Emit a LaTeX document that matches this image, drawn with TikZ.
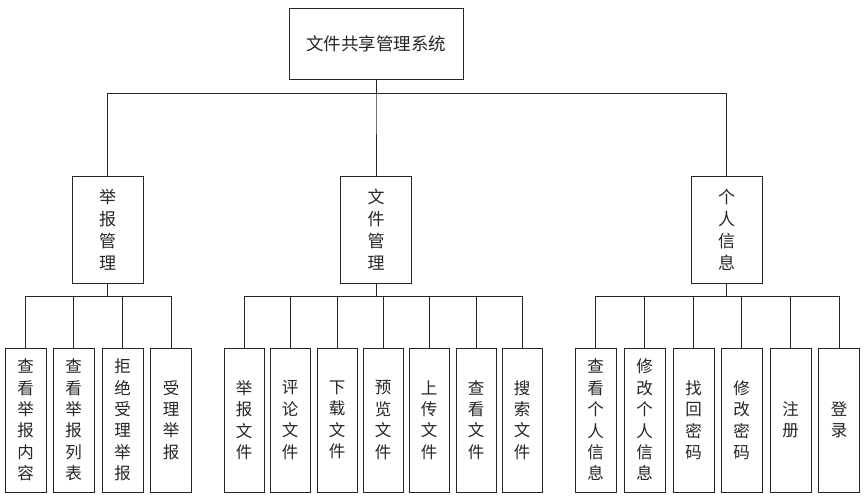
\documentclass[tikz,border=0pt]{standalone}
\usepackage{fontspec}
\newfontfamily\cjk{Noto Sans CJK SC}
\begin{document}
\begin{tikzpicture}[x=1pt,y=-1pt,
  box/.style={draw=black!85,line width=0.9pt,fill=white,inner sep=0pt,align=center,text=black!85},
  topbox/.style={box,minimum width=174pt,minimum height=71pt,font=\cjk\fontsize{17.5}{21}\selectfont},
  midbox/.style={box,minimum width=71pt,minimum height=107pt,font=\cjk\fontsize{17}{22}\selectfont},
  leafbox/.style={box,minimum width=41pt,minimum height=144pt,font=\cjk\fontsize{16.5}{21.4}\selectfont},
  link/.style={draw=black!85,line width=0.9pt}]
\useasboundingbox (0,0) rectangle (867,500);
\fill[white] (0,0) rectangle (867,500);
% top
\node[topbox] (top) at (376,43.5) {文件共享管理系统};
% middle
\node[midbox] (m1) at (107.5,229.5) {举\\报\\管\\理};
\node[midbox] (m2) at (376,229.5) {文\\件\\管\\理};
\node[midbox] (m3) at (726.5,229.5) {个\\人\\信\\息};
% leaves left
\node[leafbox] (a1) at (25.5,420) {查\\看\\举\\报\\内\\容};
\node[leafbox] (a2) at (73.5,420) {查\\看\\举\\报\\列\\表};
\node[leafbox] (a3) at (122.5,420) {拒\\绝\\受\\理\\举\\报};
\node[leafbox] (a4) at (171,420) {受\\理\\举\\报};
% leaves center
\node[leafbox,minimum width=40pt] (b1) at (244,420) {举\\报\\文\\件};
\node[leafbox,minimum width=40pt] (b2) at (290,420) {评\\论\\文\\件};
\node[leafbox,minimum width=40pt] (b3) at (337,420) {下\\载\\文\\件};
\node[leafbox,minimum width=40pt] (b4) at (383,420) {预\\览\\文\\件};
\node[leafbox,minimum width=40pt] (b5) at (429,420) {上\\传\\文\\件};
\node[leafbox,minimum width=40pt] (b6) at (476,420) {查\\看\\文\\件};
\node[leafbox,minimum width=40pt] (b7) at (522,420) {搜\\索\\文\\件};
% leaves right
\node[leafbox] (c1) at (595.5,420) {查\\看\\个\\人\\信\\息};
\node[leafbox] (c2) at (644.5,420) {修\\改\\个\\人\\信\\息};
\node[leafbox] (c3) at (693.5,420) {找\\回\\密\\码};
\node[leafbox] (c4) at (741.5,420) {修\\改\\密\\码};
\node[leafbox] (c5) at (790.5,420) {注\\册};
\node[leafbox] (c6) at (839,420) {登\\录};
% connectors
\foreach \m in {m1,m2,m3} \draw[link] (top.south) -- ++(0,14) -| (\m.north);
\foreach \c in {a1,a2,a3,a4} \draw[link] (m1.south) -- ++(0,13) -| (\c.north);
\foreach \c in {b1,b2,b3,b4,b5,b6,b7} \draw[link] (m2.south) -- ++(0,13) -| (\c.north);
\foreach \c in {c1,c2,c3,c4,c5,c6} \draw[link] (m3.south) -- ++(0,13) -| (\c.north);
\end{tikzpicture}
\end{document}
